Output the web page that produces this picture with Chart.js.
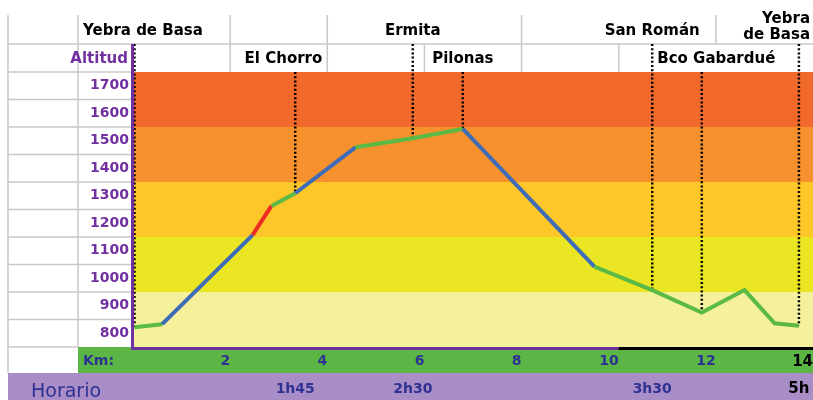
<!DOCTYPE html>
<html>
<head>
<meta charset="utf-8">
<script src="https://cdn.jsdelivr.net/npm/chart.js@4.4.1/dist/chart.umd.min.js"></script>
<style>
  html, body { margin: 0; padding: 0; background: #fff; }
  #wrap { width: 813px; height: 400px; position: relative; }
</style>
</head>
<body>
<div id="wrap"><canvas id="chart_profile"></canvas></div>
<script>
// route profile: distance (km) and altitude (m) of each vertex
var km = [0.03, 0.6, 2.46, 2.85, 3.34, 4.58, 5.76, 6.79, 9.5, 10.69, 11.71, 12.59, 13.21, 13.71];
var altitude = [822, 833, 1157, 1263, 1309, 1476, 1509, 1543, 1042, 957, 875, 957, 836, 827];
// slope class of each stretch between two vertices
var stretchClass = ['flat', 'mid', 'steep', 'flat', 'mid', 'flat', 'flat', 'mid', 'flat', 'flat', 'flat', 'flat', 'flat'];

var kmTicks = [2, 4, 6, 8, 10, 12, 14];
var altTicks = [800, 900, 1000, 1100, 1200, 1300, 1400, 1500, 1600, 1700];

// altitude bands behind the profile
var bandEdges = [750, 950, 1150, 1350, 1550, 1750];
var bandColors = ['#F4F09C', '#EAE623', '#FDC72A', '#F6912E', '#F26A2B'];

// places on the route, header row they sit in, vertex they point to
var places = ['Yebra de Basa', 'El Chorro', 'Ermita', 'Pilonas', 'San Román', 'Bco Gabardué', 'Yebra|de Basa'];
var placeRow = [1, 2, 1, 2, 1, 2, 1];
var placeVertex = [0, 4, 6, 7, 9, 10, 13];

var times = ['1h45', '2h30', '3h30', '5h'];
var timeVertex = [4, 6, 9, 13];

// spreadsheet cell borders in the two header rows (km)
var headerCells1 = [2, 4, 8, 12];
var headerCells2 = [2, 4, 6, 8, 10];

var FONT = '"DejaVu Sans", sans-serif';
var GRID = '#c8c8c8';
var PURPLE = '#7030A0';
var NAVY = '#2E3192';
var slopeColor = { flat: '#5BB946', mid: '#3F6CB7', steep: '#EC2B24' };

function line(ctx, x0, y0, x1, y1) {
    ctx.beginPath();
    ctx.moveTo(x0, y0);
    ctx.lineTo(x1, y1);
    ctx.stroke();
}

var sheetPlugin = {
    id: 'sheet',
    beforeDraw: function (chart) {
        var ctx = chart.ctx, a = chart.chartArea, xs = chart.scales.x, ys = chart.scales.y;
        ctx.save();
        ctx.fillStyle = '#fff';
        ctx.fillRect(0, 0, chart.width, chart.height);
        ctx.fillStyle = '#5BB646';
        ctx.fillRect(78, a.bottom, chart.width - 78, 26);
        ctx.fillStyle = '#A98DC6';
        ctx.fillRect(8, a.bottom + 26, chart.width - 8, chart.height - a.bottom - 26);
        for (var i = 0; i < bandColors.length; i++) {
            var yTop = ys.getPixelForValue(bandEdges[i + 1]);
            var yBot = ys.getPixelForValue(bandEdges[i]);
            ctx.fillStyle = bandColors[i];
            ctx.fillRect(a.left, yTop, chart.width - a.left, yBot - yTop);
        }
        ctx.strokeStyle = GRID;
        ctx.lineWidth = 1.5;
        line(ctx, 8, 44, chart.width, 44);
        line(ctx, 8, a.top, a.left, a.top);
        altTicks.forEach(function (v) {
            var y = ys.getPixelForValue(v - 50);
            line(ctx, 8, y, v === 800 ? 78 : a.left, y);
        });
        line(ctx, 8, 15, 8, a.bottom + 26);
        line(ctx, 78, 15, 78, a.bottom);
        headerCells1.forEach(function (k) {
            var x = xs.getPixelForValue(k);
            line(ctx, x, 15, x, 44);
        });
        headerCells2.forEach(function (k) {
            var x = xs.getPixelForValue(k);
            line(ctx, x, 44, x, a.top);
        });
        ctx.restore();
    },
    beforeDatasetsDraw: function (chart) {
        var ctx = chart.ctx, a = chart.chartArea, xs = chart.scales.x, ys = chart.scales.y;
        ctx.save();
        ctx.strokeStyle = '#000';
        ctx.lineWidth = 2.5;
        ctx.setLineDash([2, 2.2]);
        placeVertex.forEach(function (v, i) {
            var x = xs.getPixelForValue(km[v]);
            var y0 = placeRow[i] === 1 ? 44 : a.top;
            line(ctx, x, y0, x, ys.getPixelForValue(altitude[v]));
        });
        ctx.restore();
    },
    afterDraw: function (chart) {
        var ctx = chart.ctx, a = chart.chartArea, xs = chart.scales.x;
        ctx.save();
        // plot frame
        ctx.lineWidth = 3;
        ctx.strokeStyle = PURPLE;
        line(ctx, a.left - 0.5, 44, a.left - 0.5, a.bottom + 3);
        var split = xs.getPixelForValue(10);
        line(ctx, a.left - 2, a.bottom + 1.5, split, a.bottom + 1.5);
        ctx.strokeStyle = '#000';
        line(ctx, split, a.bottom + 1.5, chart.width, a.bottom + 1.5);

        // header place names
        ctx.fillStyle = '#000';
        ctx.font = 'bold 15px ' + FONT;
        ctx.textBaseline = 'middle';
        places.forEach(function (name, i) {
            var mx = xs.getPixelForValue(km[placeVertex[i]]);
            var y = placeRow[i] === 1 ? 31 : 59;
            if (i === 0) { ctx.textAlign = 'left'; ctx.fillText(name, 83, y); }
            else if (i === 1) { ctx.textAlign = 'right'; ctx.fillText(name, xs.getPixelForValue(4) - 5, y); }
            else if (i === 5) { ctx.textAlign = 'left'; ctx.fillText(name, xs.getPixelForValue(km[placeVertex[4]]) + 5, y); }
            else if (i === places.length - 1) {
                var parts = name.split('|');
                ctx.textAlign = 'right';
                ctx.fillText(parts[0], 810, 19);
                ctx.fillText(parts[1], 810, 35);
            } else { ctx.textAlign = 'center'; ctx.fillText(name, mx, y); }
        });

        ctx.fillStyle = PURPLE;
        ctx.textAlign = 'right';
        ctx.font = 'bold 15px ' + FONT;
        ctx.fillText('Altitud', 128, 59);

        ctx.fillStyle = NAVY;
        ctx.textAlign = 'left';
        ctx.font = 'bold 14px ' + FONT;
        ctx.fillText('Km:', 83, a.bottom + 14);

        ctx.font = '19px ' + FONT;
        ctx.textBaseline = 'alphabetic';
        ctx.fillText('Horario', 31, 397);

        ctx.textAlign = 'center';
        ctx.textBaseline = 'middle';
        times.forEach(function (t, i) {
            var last = i === times.length - 1;
            ctx.font = 'bold ' + (last ? 15 : 14) + 'px ' + FONT;
            ctx.fillStyle = last ? '#000' : NAVY;
            ctx.fillText(t, xs.getPixelForValue(km[timeVertex[i]]), 389);
        });
        ctx.restore();
    }
};

var chart_profile = new Chart(document.getElementById('chart_profile'), {
    type: 'line',
    data: {
        datasets: [{
            data: km.map(function (k, i) { return { x: k, y: altitude[i] }; }),
            borderWidth: 4,
            pointRadius: 0,
            tension: 0,
            borderColor: slopeColor.flat,
            segment: {
                borderColor: function (ctx) { return slopeColor[stretchClass[ctx.p0DataIndex]]; }
            }
        }]
    },
    options: {
        animation: false,
        responsive: true,
        maintainAspectRatio: false,
        layout: { padding: { left: 78, top: 72, right: 0, bottom: 27 } },
        plugins: {
            legend: { display: false },
            tooltip: { enabled: false }
        },
        scales: {
            x: {
                type: 'linear',
                min: 0,
                max: 14,
                afterBuildTicks: function (axis) {
                    axis.ticks = kmTicks.map(function (v) { return { value: v }; });
                },
                afterFit: function (axis) {
                    axis.height = 26;
                    axis.paddingLeft = 0;
                    axis.paddingRight = 0;
                },
                grid: { display: false, drawTicks: false },
                border: { display: false },
                ticks: {
                    align: 'end',
                    padding: 6,
                    maxRotation: 0,
                    autoSkip: false,
                    callback: function (v) { return String(v); },
                    color: function (c) { return c.tick && c.tick.value === 14 ? '#000' : NAVY; },
                    font: function (c) {
                        return { family: FONT, weight: 'bold', size: c.tick && c.tick.value === 14 ? 15 : 14 };
                    }
                }
            },
            y: {
                type: 'linear',
                min: 750,
                max: 1750,
                afterBuildTicks: function (axis) {
                    axis.ticks = altTicks.map(function (v) { return { value: v }; });
                },
                afterFit: function (axis) {
                    axis.width = 55;
                    axis.paddingTop = 0;
                    axis.paddingBottom = 0;
                },
                grid: { display: false, drawTicks: false },
                border: { display: false },
                ticks: {
                    padding: 4,
                    autoSkip: false,
                    callback: function (v) { return String(v); },
                    color: PURPLE,
                    font: { family: FONT, weight: 'bold', size: 14 }
                }
            }
        }
    },
    plugins: [sheetPlugin]
});
</script>
</body>
</html>
